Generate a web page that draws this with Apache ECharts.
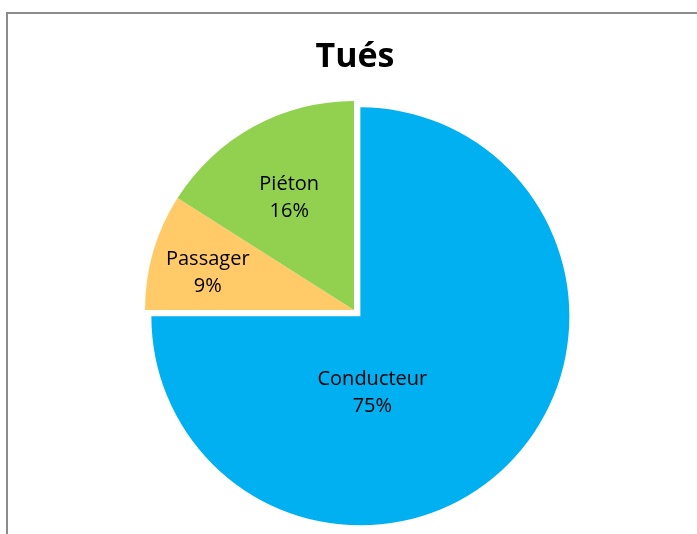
<!DOCTYPE html>
<html>
<head>
<meta charset="utf-8">
<script src="https://cdn.jsdelivr.net/npm/echarts@6/dist/echarts.min.js"></script>
<style>
html,body{margin:0;padding:0;background:#fff;}
#chart{width:697px;height:534px;}
</style>
</head>
<body>
<div id="chart"></div>
<script>
const titleText = 'Tués';
const categories = ['Conducteur', 'Passager', 'Piéton'];
const values = [75, 9, 16];
const colors = ['#00B0F0', '#FFCA67', '#92D050'];
const labelShifts = [[-64, 0], [-43, -7], [-13, -18]];

const chart = echarts.init(document.getElementById('chart'), null, {renderer: 'canvas'});
const data = categories.map((c, i) => ({
  name: c,
  value: values[i],
  selected: i === 0,
  itemStyle: {color: colors[i]}
}));

chart.setOption({
  animation: false,
  backgroundColor: '#fff',
  title: {
    text: titleText,
    left: 350,
    top: 35,
    textAlign: 'center',
    textStyle: {fontFamily: 'Open Sans', fontWeight: 'bold', fontSize: 34, color: '#000'}
  },
  graphic: [{
    type: 'rect',
    shape: {x: 7, y: 13, width: 760, height: 600},
    style: {fill: 'none', stroke: '#8c8c8c', lineWidth: 2},
    silent: true
  }],
  series: [{
    type: 'pie',
    center: [354, 310],
    radius: 209,
    startAngle: 90,
    clockwise: true,
    selectedMode: 'single',
    selectedOffset: 9,
    percentPrecision: 0,
    data: data,
    itemStyle: {borderWidth: 0},
    emphasis: {disabled: true},
    labelLine: {show: false},
    labelLayout: function (params) {
      const s = labelShifts[params.dataIndex];
      return {dx: s[0], dy: s[1]};
    },
    label: {
      show: true,
      position: 'inside',
      formatter: '{b}\n{d}%',
      fontFamily: 'Open Sans',
      fontSize: 20,
      lineHeight: 27,
      color: '#000',
      align: 'center'
    }
  }]
});
</script>
</body>
</html>
